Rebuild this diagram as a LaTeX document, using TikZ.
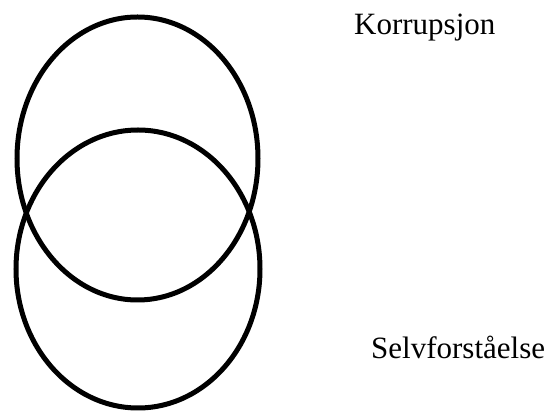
\documentclass[tikz,border=0pt]{standalone}
\usepackage{fontspec}
\setmainfont{Liberation Serif}
\usetikzlibrary{shapes.geometric}
\begin{document}
\begin{tikzpicture}[x=1pt,y=-1pt,
  ring/.style={ellipse,draw=black,line width=5pt,inner sep=0pt,outer sep=0pt},
  lbl/.style={anchor=base west,inner sep=0pt,font=\fontsize{31}{37}\selectfont}]
\useasboundingbox[fill=white] (0,0) rectangle (552,411);
\node[ring,minimum width=241pt,minimum height=283pt] (upper) at (137.5,158.5) {};
\node[ring,minimum width=244pt,minimum height=278pt] (lower) at (138,269) {};
\node[lbl] (korr) at (354,35) {Korrupsjon};
\node[lbl] (selv) at (371,359) {Selvforståelse};
\end{tikzpicture}
\end{document}
